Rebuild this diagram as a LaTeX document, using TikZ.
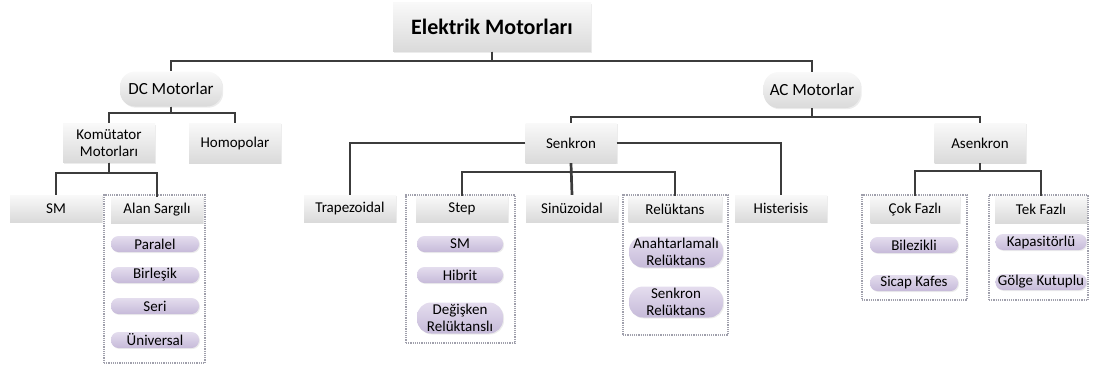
\documentclass[tikz,border=0pt]{standalone}
\usepackage{fontspec}
\setmainfont{Carlito}
\usetikzlibrary{positioning,shadows,backgrounds}
\definecolor{linegray}{HTML}{3C3C3C}
\definecolor{boxtop}{HTML}{F9F9F9}
\definecolor{boxbottom}{HTML}{DADADA}
\definecolor{pilltop}{HTML}{E4DDEE}
\definecolor{pillbottom}{HTML}{C6BAD9}
\definecolor{framegray}{HTML}{A0A0AC}
\tikzset{basebox/.style = {rectangle, top color = boxtop, bottom color = boxbottom, drop shadow = {opacity = 0.15, shadow xshift = 1.2pt, shadow yshift = -1.2pt}, inner sep = 0pt, align = center, text = black, font = \fontsize{15}{17.5}\selectfont, minimum width = 92, minimum height = 27},
	roundbox/.style = {basebox, rounded corners = 15pt, font = \fontsize{17}{19}\selectfont, minimum height = 35},
	pill/.style = {rectangle, rounded corners = 7.5pt, top color = pilltop, bottom color = pillbottom, drop shadow = {opacity = 0.15, shadow xshift = 1pt, shadow yshift = -1pt}, inner sep = 0pt, align = center, text = black, font = \fontsize{15}{17}\selectfont, minimum width = 88, minimum height = 16},
	pilltwo/.style = {pill, rounded corners = 14pt, minimum height = 31},
	grpframe/.style = {rectangle, draw = framegray, densely dotted, line width = 1.2pt, inner sep = 0pt},
	conn/.style = {draw = linegray, line width = 2.7pt}}

\begin{document}
\begin{tikzpicture}[x = 1pt, y = -1pt]
 \useasboundingbox (0,0) rectangle (1093,367);

 % levels 0-2
 \node (elmot) at (492,27) [basebox, minimum width = 198, minimum height = 49, font = \fontsize{22}{24}\selectfont\bfseries] {Elektrik Motorları};
 \node (dcmot) at (171,89) [roundbox, minimum width = 102] {DC Motorlar};
 \node (acmot) at (812,90) [roundbox, minimum width = 97, minimum height = 36] {AC Motorlar};
 \node (komut) at (109,143) [basebox, minimum height = 39] {Komütator\\Motorları};
 \node (homop) at (235,143) [basebox, minimum height = 40] {Homopolar};
 \node (senk) at (571,143) [basebox, minimum width = 91, minimum height = 40] {Senkron};
 \node (asenk) at (980,143) [basebox, minimum width = 91, minimum height = 40] {Asenkron};

 % dotted groups
 \node (alanF) at (154.5,279) [grpframe, minimum width = 101, minimum height = 168] {};
 \node (stepF) at (460.5,269) [grpframe, minimum width = 109, minimum height = 148] {};
 \node (relF) at (675.5,265) [grpframe, minimum width = 105, minimum height = 140] {};
 \node (cokF) at (914.5,247.5) [grpframe, minimum width = 105, minimum height = 105] {};
 \node (tekF) at (1038.5,247.5) [grpframe, minimum width = 99, minimum height = 105] {};

 % level 3
 \node (smA) at (56,208.5) [basebox] {SM};
 \node (alanH) at (157,210) [basebox, minimum height = 26] {Alan Sargılı};
 \node (trap) at (350,208.5) [basebox] {Trapezoidal};
 \node (stepH) at (462,209) [basebox, minimum height = 26] {Step};
 \node (sinu) at (572,208.5) [basebox] {Sinüzoidal};
 \node (relH) at (675,209) [basebox, minimum width = 93, minimum height = 26] {Relüktans};
 \node (hist) at (781,208.5) [basebox] {Histerisis};
 \node (cokH) at (915,209.5) [basebox, minimum width = 89] {Çok Fazlı};
 \node (tekH) at (1041,209.5) [basebox] {Tek Fazlı};

 % pills
 \node (paralel) at (155,244) [pill] {Paralel};
 \node (birlesik) at (155,275) [pill] {Birleşik};
 \node (seri) at (155,306) [pill] {Seri};
 \node (univ) at (155,340) [pill] {Üniversal};
 \node (smB) at (460,244) [pill, minimum width = 86] {SM};
 \node (hibrit) at (460,275) [pill, minimum width = 86] {Hibrit};
 \node (degisken) at (460,318) [pilltwo, minimum width = 86] {Değişken\\Relüktanslı};
 \node (anahtar) at (676,252) [pilltwo, minimum width = 94] {Anahtarlamalı\\Relüktans};
 \node (senkrel) at (676,302) [pilltwo, minimum width = 94] {Senkron\\Relüktans};
 \node (bilez) at (914,245) [pill] {Bilezikli};
 \node (sicap) at (914,283) [pill] {Sicap Kafes};
 \node (kapas) at (1041,242) [pill, minimum width = 91] {Kapasitörlü};
 \node (golge) at (1041,282) [pill, minimum width = 91] {Gölge Kutuplu};

 % connectors
 \coordinate (topbus) at (0,61);
 \coordinate (dcbus) at (0,113);
 \coordinate (acbus) at (0,117);
 \coordinate (kombus) at (0,173);
 \coordinate (senkbus) at (0,172);
 \coordinate (asenkbus) at (0,171);

 \draw [conn] (elmot.south) -- (elmot.south |- topbus) -| (dcmot.north);
 \draw [conn] (elmot.south) -- (elmot.south |- topbus) -| (acmot.north);
 \draw [conn] (dcmot.south) -- (dcmot.south |- dcbus) -| (komut.north);
 \draw [conn] (dcmot.south) -- (dcmot.south |- dcbus) -| (homop.north);
 \draw [conn] (acmot.south) -- (acmot.south |- acbus) -| (senk.north);
 \draw [conn] (acmot.south) -- (acmot.south |- acbus) -| (asenk.north);
 \draw [conn] (komut.south) -- (komut.south |- kombus) -| (smA.north);
 \draw [conn] (komut.south) -- (komut.south |- kombus) -| (alanH.north);
 \draw [conn] (senk.west) -| (trap.north);
 \draw [conn] (senk.east) -| (hist.north);
 \draw [conn] (senk.south) -- (sinu.north);
 \draw [conn] (senk.south) -- (senk.south |- senkbus) -| (stepH.north);
 \draw [conn] (senk.south) -- (senk.south |- senkbus) -| (relH.north);
 \draw [conn] (asenk.south) -- (asenk.south |- asenkbus) -| (cokH.north);
 \draw [conn] (asenk.south) -- (asenk.south |- asenkbus) -| (tekH.north);

\end{tikzpicture}
\end{document}
